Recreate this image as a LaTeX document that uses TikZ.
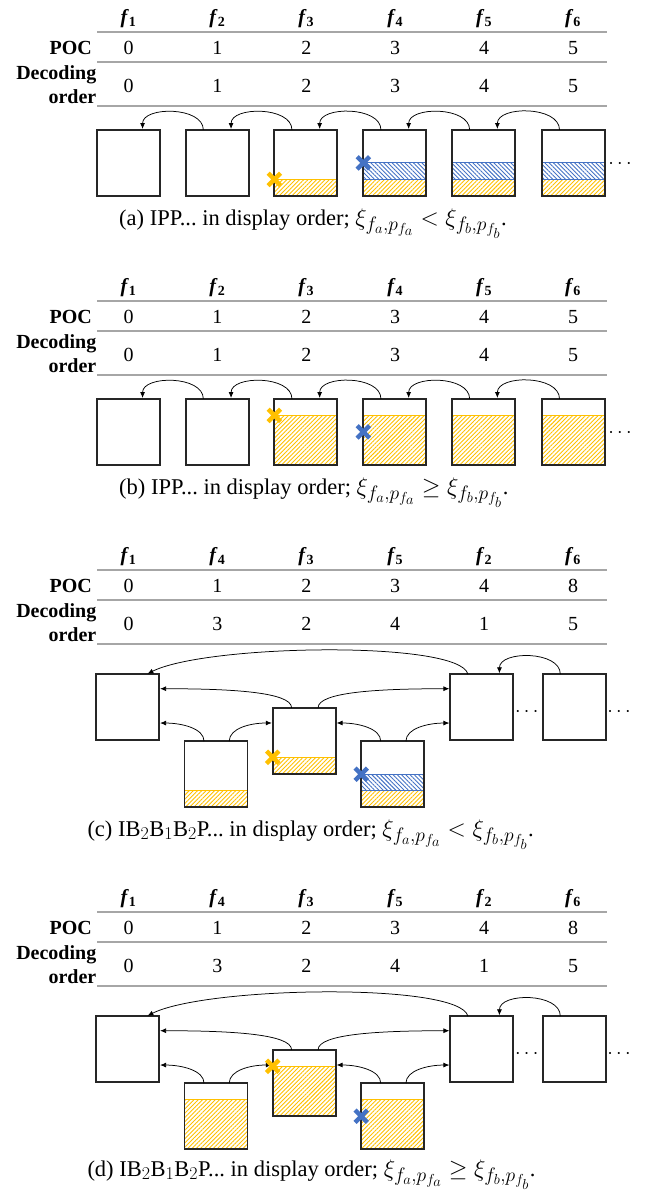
\RequirePackage{fix-cm}
\documentclass[tikz,border=0pt]{standalone}
\usepackage[no-math]{fontspec}
\setmainfont{Liberation Serif}
\usetikzlibrary{calc,arrows.meta,patterns.meta,backgrounds,shapes.misc}
\definecolor{gold}{HTML}{FFC000}
\definecolor{oblue}{HTML}{4472C4}
\definecolor{rulegray}{HTML}{A6A6A6}
\DeclareMathSizes{24}{24}{19.5}{14.5}
\DeclareMathSizes{22.5}{22.5}{18}{14}
\newcommand\fl[1]{\textbf{\textit{f}}\textsubscript{\textbf{#1}}}
\newcommand\mth[1]{{\fontsize{24}{28}\selectfont$#1$}}
\newcommand\hdrtable[5]{%
  \foreach \v [count=\i] in {#3}
    \node[tabtxt] (#1f\i) at ({128.5+88.9*(\i-1)}, {-(#2+19)}) {\fl{\v}};
  \foreach \v [count=\i] in {#4}
    \node[tabtxt] (#1p\i) at ({128.5+88.9*(\i-1)}, {-(#2+48)}) {\v};
  \foreach \v [count=\i] in {#5}
    \node[tabtxt] (#1d\i) at ({128.5+88.9*(\i-1)}, {-(#2+86)}) {\v};
  \node[rowlab] (#1poc) at (92, {-(#2+48)}) {POC};
  \node[rowlab] (#1dec) at (96.5, {-(#2+85)}) {Decoding\\order};
  \draw[hrule] (97, {-(#2+32)}) -- (607, {-(#2+32)});
  \draw[hrule] (97, {-(#2+62)}) -- (607, {-(#2+62)});
  \draw[hrule] (97, {-(#2+106)}) -- (607, {-(#2+106)});
}
\begin{document}
\begin{tikzpicture}[x=1pt,y=1pt,
  frm/.style={draw=black!85, line width=1.8pt, inner sep=0pt, outer sep=0pt,
    minimum width=63pt, minimum height=66pt},
  tabtxt/.style={font=\fontsize{20}{24}\selectfont, inner sep=0pt},
  rowlab/.style={font=\fontsize{20}{24}\selectfont\bfseries, align=right, anchor=east, inner sep=0pt},
  hrule/.style={draw=rulegray, line width=1.2pt},
  arr/.style={-{Latex[length=6pt,width=5pt]}, line width=0.75pt, shorten >=0.9pt},
  yfill/.style={draw=gold, line width=1pt,
    pattern={Lines[angle=45,distance=3pt,line width=0.9pt]}, pattern color=gold},
  bfill/.style={draw=oblue, line width=1pt,
    pattern={Lines[angle=-45,distance=3pt,line width=0.9pt]}, pattern color=oblue},
  ycross/.style={cross out, draw=gold, line width=4.4pt, minimum size=8pt, inner sep=0pt},
  bcross/.style={cross out, draw=oblue, line width=4.4pt, minimum size=8pt, inner sep=0pt},
  captxt/.style={font=\fontsize{22.5}{27}\selectfont\frenchspacing, inner sep=0pt, anchor=base west},
  dotsn/.style={font=\fontsize{20}{24}\selectfont, inner sep=0pt},
]
\useasboundingbox (0,0) rectangle (646,-1192);

% ================= (a) =================
\hdrtable{A}{0}{1,2,3,4,5,6}{0,1,2,3,4,5}{0,1,2,3,4,5}
\foreach \x [count=\i] in {128.7,217.2,305.8,394.8,483.5,573.4}
  \node[frm] (a\i) at (\x,-162.9) {};
\begin{scope}[on background layer]
  \path[yfill] (a3.south west) rectangle ($(a3.south east)!0.25!(a3.north east)$);
  \foreach \i in {4,5,6} {
    \path[yfill] (a\i.south west) rectangle ($(a\i.south east)!0.25!(a\i.north east)$);
    \path[bfill] ($(a\i.south west)!0.25!(a\i.north west)$) rectangle ($(a\i.south east)!0.5!(a\i.north east)$);
  }
\end{scope}
\foreach \i [count=\j from 2] in {1,...,5}
  \draw[arr] ($(a\j.north west)!0.28!(a\j.north east)$) to[out=90,in=90] ($(a\i.north west)!0.72!(a\i.north east)$);
\node[ycross] (axy) at ($(a3.south west)!0.25!(a3.north west)$) {};
\node[bcross] (axb) at ($(a4.south west)!0.5!(a4.north west)$) {};
\node[dotsn] (adots) at (620,-164) {$\cdots$};
\node[captxt] (capa) at (119,-225) {(a) IPP... in display order; \mth{\xi_{f_a,p_{f_a}} < \xi_{f_b,p_{f_b}}}.};

% ================= (b) =================
\hdrtable{B}{269}{1,2,3,4,5,6}{0,1,2,3,4,5}{0,1,2,3,4,5}
\foreach \x [count=\i] in {128.7,217.2,305.8,394.8,483.5,573.4}
  \node[frm] (b\i) at (\x,-431.9) {};
\begin{scope}[on background layer]
  \foreach \i in {3,4,5,6}
    \path[yfill] (b\i.south west) rectangle ($(b\i.south east)!0.75!(b\i.north east)$);
\end{scope}
\foreach \i [count=\j from 2] in {1,...,5}
  \draw[arr] ($(b\j.north west)!0.28!(b\j.north east)$) to[out=90,in=90] ($(b\i.north west)!0.72!(b\i.north east)$);
\node[ycross] (bxy) at ($(b3.south west)!0.75!(b3.north west)$) {};
\node[bcross] (bxb) at ($(b4.south west)!0.5!(b4.north west)$) {};
\node[dotsn] (bdots) at (620,-433) {$\cdots$};
\node[captxt] (capb) at (119,-494) {(b) IPP... in display order; \mth{\xi_{f_a,p_{f_a}} \geq \xi_{f_b,p_{f_b}}}.};

% ================= (c) =================
\hdrtable{C}{538}{1,4,3,5,2,6}{0,1,2,3,4,8}{0,3,2,4,1,5}
\node[frm] (c1) at (127.7,-707.2) {};
\node[frm] (c2) at (216.0,-774.2) {};
\node[frm] (c3) at (304.2,-740.8) {};
\node[frm] (c4) at (392.7,-774.2) {};
\node[frm] (c5) at (481.8,-707.2) {};
\node[frm] (c6) at (574.2,-707.2) {};
\begin{scope}[on background layer]
  \foreach \i in {2,3,4}
    \path[yfill] (c\i.south west) rectangle ($(c\i.south east)!0.25!(c\i.north east)$);
  \path[bfill] ($(c4.south west)!0.25!(c4.north west)$) rectangle ($(c4.south east)!0.5!(c4.north east)$);
\end{scope}
\draw[arr] ($(c5.north west)!0.28!(c5.north east)$) .. controls +(-8,34) and +(60,30) .. ($(c1.north west)!0.8!(c1.north east)$);
\draw[arr] ($(c3.north west)!0.3!(c3.north east)$) .. controls +(0,16) and +(70,0) .. ($(c1.north east)!0.22!(c1.south east)$);
\draw[arr] ($(c2.north west)!0.31!(c2.north east)$) .. controls +(0,13) and +(22,0) .. ($(c1.north east)!0.74!(c1.south east)$);
\draw[arr] ($(c2.north west)!0.71!(c2.north east)$) .. controls +(0,13) and +(-22,0) .. ($(c3.north west)!0.23!(c3.south west)$);
\draw[arr] ($(c4.north west)!0.31!(c4.north east)$) .. controls +(0,13) and +(22,0) .. ($(c3.north east)!0.23!(c3.south east)$);
\draw[arr] ($(c4.north west)!0.71!(c4.north east)$) .. controls +(0,13) and +(-22,0) .. ($(c5.north west)!0.74!(c5.south west)$);
\draw[arr] ($(c3.north west)!0.72!(c3.north east)$) .. controls +(0,16) and +(-70,0) .. ($(c5.north west)!0.22!(c5.south west)$);
\draw[arr] ($(c6.north west)!0.28!(c6.north east)$) to[out=90,in=90] ($(c5.north west)!0.78!(c5.north east)$);
\node[ycross] (cxy) at ($(c3.south west)!0.25!(c3.north west)$) {};
\node[bcross] (cxb) at ($(c4.south west)!0.5!(c4.north west)$) {};
\node[dotsn] (cdots1) at (526.7,-711.7) {$\cdots$};
\node[dotsn] (cdots2) at (619,-711.7) {$\cdots$};
\node[captxt] (capc) at (87.3,-836) {(c) IB$_2$B$_1$B$_2$P... in display order; \mth{\xi_{f_a,p_{f_a}} < \xi_{f_b,p_{f_b}}}.};

% ================= (d) =================
\hdrtable{D}{880}{1,4,3,5,2,6}{0,1,2,3,4,8}{0,3,2,4,1,5}
\node[frm] (d1) at (127.7,-1049.2) {};
\node[frm] (d2) at (216.0,-1116.2) {};
\node[frm] (d3) at (304.2,-1082.8) {};
\node[frm] (d4) at (392.7,-1116.2) {};
\node[frm] (d5) at (481.8,-1049.2) {};
\node[frm] (d6) at (574.2,-1049.2) {};
\begin{scope}[on background layer]
  \foreach \i in {2,3,4}
    \path[yfill] (d\i.south west) rectangle ($(d\i.south east)!0.75!(d\i.north east)$);
\end{scope}
\draw[arr] ($(d5.north west)!0.28!(d5.north east)$) .. controls +(-8,34) and +(60,30) .. ($(d1.north west)!0.8!(d1.north east)$);
\draw[arr] ($(d3.north west)!0.3!(d3.north east)$) .. controls +(0,16) and +(70,0) .. ($(d1.north east)!0.22!(d1.south east)$);
\draw[arr] ($(d2.north west)!0.31!(d2.north east)$) .. controls +(0,13) and +(22,0) .. ($(d1.north east)!0.74!(d1.south east)$);
\draw[arr] ($(d2.north west)!0.71!(d2.north east)$) .. controls +(0,13) and +(-22,0) .. ($(d3.north west)!0.23!(d3.south west)$);
\draw[arr] ($(d4.north west)!0.31!(d4.north east)$) .. controls +(0,13) and +(22,0) .. ($(d3.north east)!0.23!(d3.south east)$);
\draw[arr] ($(d4.north west)!0.71!(d4.north east)$) .. controls +(0,13) and +(-22,0) .. ($(d5.north west)!0.74!(d5.south west)$);
\draw[arr] ($(d3.north west)!0.72!(d3.north east)$) .. controls +(0,16) and +(-70,0) .. ($(d5.north west)!0.22!(d5.south west)$);
\draw[arr] ($(d6.north west)!0.28!(d6.north east)$) to[out=90,in=90] ($(d5.north west)!0.78!(d5.north east)$);
\node[ycross] (dxy) at ($(d3.south west)!0.75!(d3.north west)$) {};
\node[bcross] (dxb) at ($(d4.south west)!0.5!(d4.north west)$) {};
\node[dotsn] (ddots1) at (526.7,-1053.7) {$\cdots$};
\node[dotsn] (ddots2) at (619,-1053.7) {$\cdots$};
\node[captxt] (capd) at (87.3,-1176) {(d) IB$_2$B$_1$B$_2$P... in display order; \mth{\xi_{f_a,p_{f_a}} \geq \xi_{f_b,p_{f_b}}}.};
\end{tikzpicture}
\end{document}
